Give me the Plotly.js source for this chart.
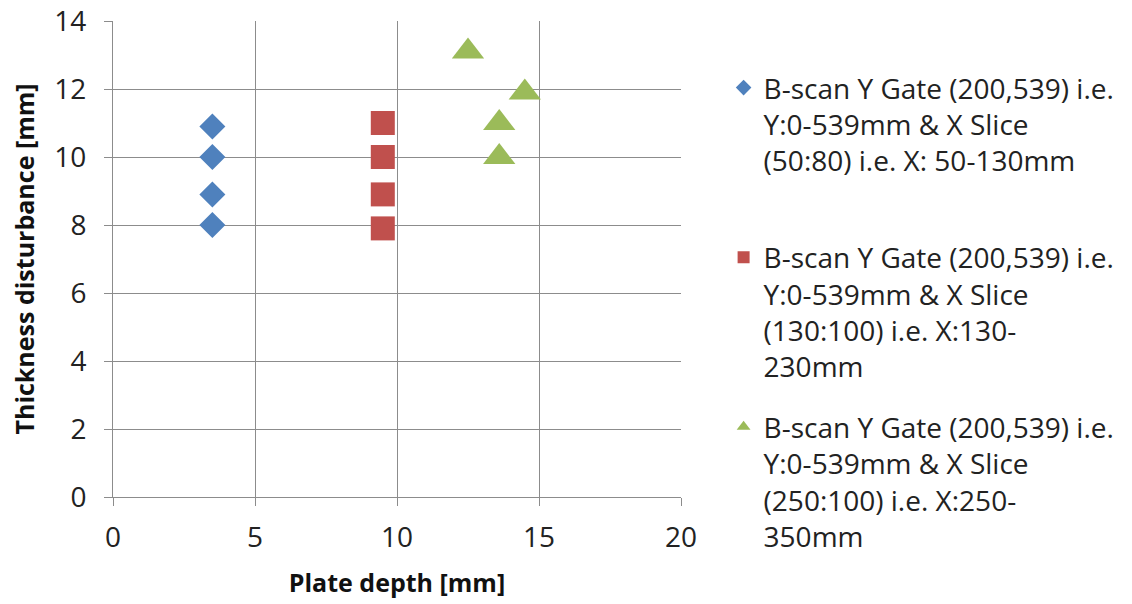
<!DOCTYPE html>
<html>
<head>
<meta charset="utf-8">
<script src="https://cdn.plot.ly/plotly-3.0.1.min.js"></script>
<style>html,body{margin:0;padding:0;background:#fff;}#chart{width:1132px;height:604px;}</style>
</head>
<body>
<div id="chart"></div>
<script>
// Data
const seriesNames = [
  "B-scan Y Gate (200,539) i.e.<br>Y:0-539mm & X Slice<br>(50:80) i.e. X: 50-130mm<br> ",
  "B-scan Y Gate (200,539) i.e.<br>Y:0-539mm & X Slice<br>(130:100) i.e. X:130-<br>230mm",
  "B-scan Y Gate (200,539) i.e.<br>Y:0-539mm & X Slice<br>(250:100) i.e. X:250-<br>350mm"
];
const blueX = [3.5, 3.5, 3.5, 3.5];
const blueY = [10.9, 10.0, 8.9, 8.0];
const redX = [9.5, 9.5, 9.5, 9.5];
const redY = [11.0, 10.0, 8.9, 7.9];
const greenX = [12.5, 14.5, 13.6, 13.6];
const greenY = [13.1, 11.9, 11.0, 10.0];
const xTicks = [0, 5, 10, 15, 20];
const yTicks = [0, 2, 4, 6, 8, 10, 12, 14];

const font = "Open Sans, Noto Sans, sans-serif";
const traces = [
  {x: blueX, y: blueY, name: seriesNames[0], legendgroup: "a", type: "scatter", mode: "markers",
   marker: {symbol: "diamond", size: 20, color: "#4F81BD"}},
  {x: redX, y: redY, name: seriesNames[1], legendgroup: "b", type: "scatter", mode: "markers",
   marker: {symbol: "square", size: 24, color: "#C0504D"}},
  {x: greenX, y: greenY, name: seriesNames[2], legendgroup: "c", type: "scatter", mode: "markers",
   marker: {symbol: "triangle-up", size: 28, color: "#9BBB59"}}
];
const axisCommon = {
  showgrid: true, gridcolor: "#8c8c8c", gridwidth: 1,
  showline: true, linecolor: "#8c8c8c", linewidth: 1,
  ticks: "outside", ticklen: 8, tickcolor: "#8c8c8c",
  zeroline: false, tickfont: {family: font, size: 28, color: "#222"}
};
const layout = {
  width: 1132, height: 604,
  margin: {l: 113, r: 451, t: 21, b: 107},
  paper_bgcolor: "#fff", plot_bgcolor: "#fff",
  showlegend: true,
  xaxis: Object.assign({}, axisCommon, {range: [0, 20], tickvals: xTicks, ticklabelstandoff: 7,
    title: {text: "<b>Plate depth [mm]</b>", font: {family: font, size: 25, color: "#111"}, standoff: 20}}),
  yaxis: Object.assign({}, axisCommon, {range: [0, 14], tickvals: yTicks, ticklabelstandoff: 12,
    title: {text: "<b>Thickness disturbance [mm]</b>", font: {family: font, size: 25, color: "#111"}, standoff: 12}}),
  legend: {x: 1.075, xanchor: "left", y: 0.912, yanchor: "top", tracegroupgap: 21, valign: "top",
    maxheight: 580,
    itemsizing: "constant", font: {family: font, size: 28, color: "#222"}, bgcolor: "rgba(0,0,0,0)"}
};
Plotly.newPlot("chart", traces, layout, {displayModeBar: false});
</script>
</body>
</html>
